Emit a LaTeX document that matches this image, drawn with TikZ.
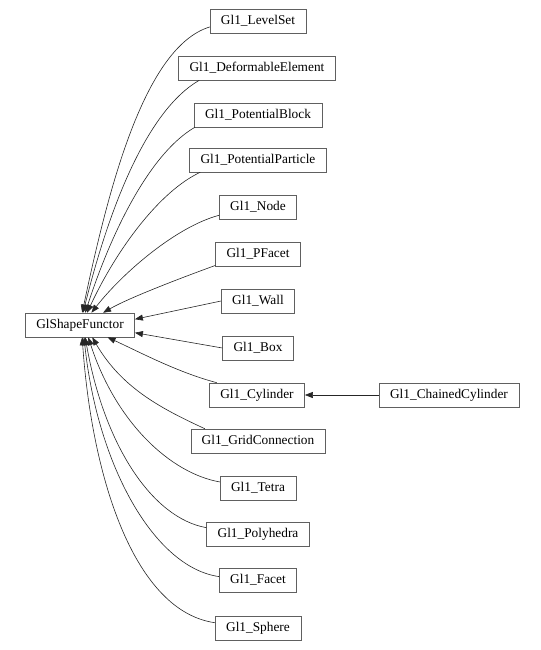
\documentclass[tikz,border=0pt]{standalone}
\usepackage{fontspec}
\setmainfont{Liberation Serif}
\usepackage{tikz}
\usetikzlibrary{arrows.meta, positioning, calc}
\definecolor{boxgray}{HTML}{606060}
\newcommand{\inherits}[5]
{
	\draw[derive] (#1) .. controls +(#2) and +(#3) .. (#4.#5)
}

\begin{document}
\begin{tikzpicture}[x=0.75pt, y=0.75pt,
every node/.append style={shape=rectangle,
	draw=boxgray, minimum height=18pt, inner xsep=8.2pt,
	font=\fontsize{10}{12}\selectfont},
derive/.style={line width=0.45pt, draw=black!85, -{Triangle[length=6pt,width=4.5pt]}}]
\useasboundingbox (0,0) rectangle (541,-650);

\node at (80, -325) (GlShapeFunctor){GlShapeFunctor};

\node at (258, -21) (LevelSet){Gl1\_LevelSet};
\node at (257, -68) (DeformableElement){Gl1\_DeformableElement};
\node at (258, -115) (PotentialBlock){Gl1\_PotentialBlock};
\node at (258, -160) (PotentialParticle){Gl1\_PotentialParticle};
\node at (258, -207) (Node){Gl1\_Node};
\node at (258, -254) (PFacet){Gl1\_PFacet};
\node at (258, -301) (Wall){Gl1\_Wall};
\node at (258, -348) (Box){Gl1\_Box};
\node at (257, -395) (Cylinder){Gl1\_Cylinder};
\node at (449, -395) (ChainedCylinder){Gl1\_ChainedCylinder};
\node at (258, -441) (GridConnection){Gl1\_GridConnection};
\node at (258, -488) (Tetra){Gl1\_Tetra};
\node at (258, -534) (Polyhedra){Gl1\_Polyhedra};
\node at (258, -580) (Facet){Gl1\_Facet};
\node at (258, -628) (Sphere){Gl1\_Sphere};

\inherits{LevelSet.187}{197:70}{78:120}{GlShapeFunctor}{80.5};
\inherits{DeformableElement.192}{210:60}{76:110}{GlShapeFunctor}{76};
\inherits{PotentialBlock.191}{210:50}{72:90}{GlShapeFunctor}{67};
\inherits{PotentialParticle.192}{205:45}{65:70}{GlShapeFunctor}{60};
\inherits{Node.192}{195:45}{52:50}{GlShapeFunctor}{47};
\inherits{PFacet.195}{200:35}{30:30}{GlShapeFunctor}{28};
\draw[derive] (Wall.west) -- (GlShapeFunctor.6);
\draw[derive] (Box.west) -- (GlShapeFunctor.-8);
\inherits{Cylinder.163}{165:40}{-25:40}{GlShapeFunctor}{-24};
\inherits{GridConnection.167}{155:45}{-60:60}{GlShapeFunctor}{-45};
\inherits{Tetra.171}{170:50}{-72:90}{GlShapeFunctor}{-56};
\inherits{Polyhedra.173}{170:55}{-80:110}{GlShapeFunctor}{-67};
\inherits{Facet.175}{172:65}{-84:130}{GlShapeFunctor}{-72};
\inherits{Sphere.173}{172:80}{-86:145}{GlShapeFunctor}{-80.5};
\draw[derive] (ChainedCylinder.west) -- (Cylinder.east);
\end{tikzpicture}
\end{document}
